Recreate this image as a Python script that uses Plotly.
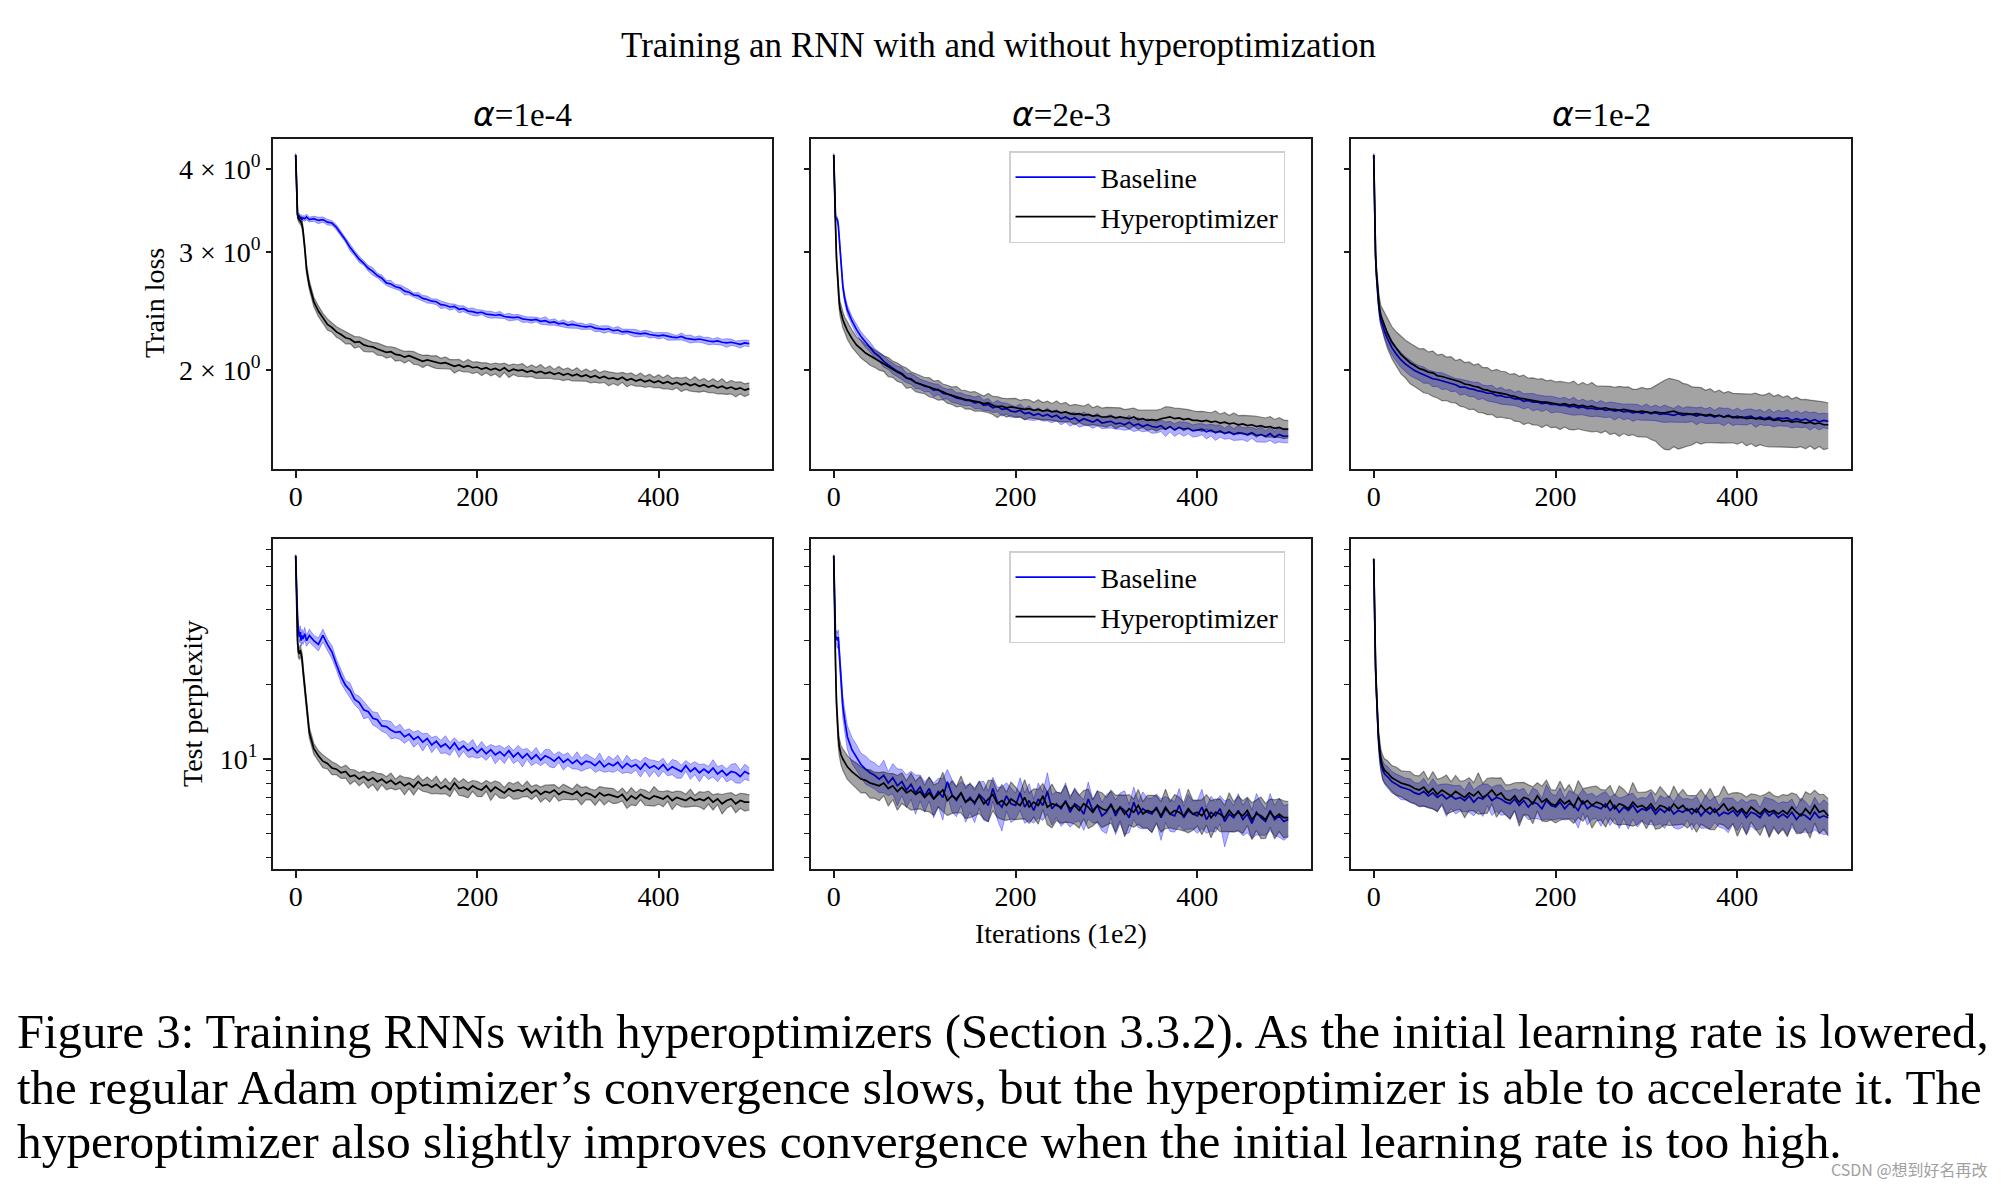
import plotly.graph_objects as go

SERIF = "Liberation Serif, Times New Roman, serif"

# ---------------- data ----------------
X = [0, 1, 2, 3, 4, 5, 6, 7, 8, 10, 12, 15, 20, 25, 30, 35, 40, 45] + list(range(50, 501, 5))
X_TICKS = [0, 200, 400]

# ---- Train loss, alpha = 1e-4 ----
B1 = [4.20, 3.72, 3.42, 3.39, 3.40, 3.37, 3.39, 3.36, 3.38, 3.37, 3.39, 3.36, 3.37, 3.35, 3.36, 3.33, 3.32, 3.27,
      3.20, 3.13, 3.05, 2.99, 2.93, 2.89, 2.84, 2.81, 2.77, 2.745,
      2.70, 2.69, 2.665, 2.655, 2.625, 2.615, 2.59, 2.585, 2.56, 2.55,
      2.535, 2.53, 2.505, 2.50, 2.485, 2.49, 2.465, 2.47, 2.45, 2.445,
      2.435, 2.44, 2.425, 2.42, 2.415, 2.42, 2.405, 2.40, 2.395, 2.40,
      2.385, 2.38, 2.375, 2.38, 2.365, 2.37, 2.355, 2.36, 2.345, 2.35,
      2.335, 2.34, 2.33, 2.325, 2.32, 2.325, 2.31, 2.305, 2.30, 2.305,
      2.29, 2.295, 2.28, 2.285, 2.275, 2.27, 2.265, 2.27, 2.26, 2.255,
      2.25, 2.255, 2.245, 2.24, 2.235, 2.245, 2.23, 2.225, 2.22, 2.225,
      2.215, 2.21, 2.205, 2.21, 2.20, 2.195, 2.20, 2.19, 2.185, 2.195,
      2.19]
B1_BAND = [0.5, 0.6, 0.8, 0.9, 1.0, 0.8, 0.9, 1.0, 0.8, 0.9, 1.0, 0.8, 0.9, 1.1, 0.9, 1.0, 0.8, 0.9,
           1.0, 0.8, 1.2, 0.9, 1.1, 0.7, 1.0, 1.3, 0.8, 1.1,
           0.9, 1.2, 0.8, 1.0, 1.3, 0.9, 0.7, 1.1, 1.0, 1.2,
           0.8, 1.0, 1.3, 0.9, 1.1, 0.8, 1.2, 1.0, 0.9, 1.3,
           1.1, 0.8, 1.0, 1.2, 0.9, 1.1, 0.7, 1.3, 1.0, 0.9,
           1.2, 0.9, 1.1, 0.8, 1.0, 1.4, 0.9, 1.1, 0.8, 1.2,
           1.0, 1.3, 0.9, 1.1, 0.8, 1.0, 1.2, 0.9, 1.3, 1.0,
           0.9, 1.2, 1.0, 0.8, 1.1, 1.3, 0.9, 1.0, 1.2, 0.8,
           1.1, 0.9, 1.3, 1.0, 0.8, 1.2, 1.0, 1.4, 0.9, 1.1,
           1.0, 1.3, 0.9, 1.2, 1.0, 1.5, 1.1, 0.9, 1.3, 1.0,
           1.1]
H1 = [4.20, 3.70, 3.42, 3.37, 3.36, 3.35, 3.33, 3.30, 3.24, 3.05, 2.83, 2.68, 2.53, 2.45, 2.39, 2.34, 2.315, 2.28,
      2.26, 2.235, 2.225, 2.20, 2.205, 2.18, 2.17, 2.165, 2.15, 2.14,
      2.125, 2.13, 2.11, 2.105, 2.09, 2.10, 2.085, 2.075, 2.06, 2.07,
      2.06, 2.055, 2.045, 2.05, 2.04, 2.025, 2.035, 2.02, 2.03, 2.015,
      2.02, 2.005, 2.015, 2.00, 2.01, 1.995, 2.015, 1.99, 2.005, 1.995,
      2.00, 1.985, 1.995, 1.98, 1.99, 1.975, 1.985, 1.97, 1.98, 1.965,
      1.975, 1.96, 1.97, 1.955, 1.965, 1.95, 1.96, 1.945, 1.955, 1.94,
      1.945, 1.935, 1.95, 1.93, 1.94, 1.925, 1.935, 1.92, 1.93, 1.915,
      1.925, 1.91, 1.92, 1.905, 1.915, 1.90, 1.91, 1.895, 1.905, 1.89,
      1.90, 1.885, 1.895, 1.88, 1.89, 1.875, 1.885, 1.87, 1.88, 1.865,
      1.875]
H1_BAND = [0.5, 0.8, 1.0, 1.0, 1.2, 1.0, 1.2, 1.3, 1.4, 1.5, 1.6, 1.5, 1.6, 1.8, 1.7, 1.9, 1.6, 1.8,
           1.8, 2.1, 1.6, 2.0, 1.7, 2.2, 1.9, 1.6, 2.1, 1.8,
           2.0, 1.7, 2.3, 1.8, 2.0, 1.6, 2.2, 1.9, 2.1, 1.7,
           1.9, 2.2, 1.8, 2.0, 1.6, 2.3, 1.9, 1.7, 2.1, 2.0,
           1.8, 2.2, 1.7, 2.0, 1.9, 2.3, 1.6, 2.1, 1.8, 2.0,
           2.2, 1.7, 2.0, 1.9, 2.4, 1.8, 2.1, 1.7, 2.2, 1.9,
           2.0, 1.8, 2.3, 1.7, 2.1, 1.9, 2.2, 1.8, 2.0, 2.4,
           1.9, 2.1, 1.7, 2.2, 2.0, 1.8, 2.3, 1.9, 2.1, 1.8,
           2.2, 1.9, 2.4, 2.0, 1.8, 2.3, 2.1, 1.9, 2.5, 2.0,
           2.2, 1.9, 2.4, 2.1, 2.6, 2.0, 2.3, 2.5, 2.1, 2.2,
           2.0]

# ---- Train loss, alpha = 2e-3 ----
B2 = [4.20, 3.55, 3.38, 3.37, 3.36, 3.30, 3.17, 3.02, 2.89, 2.67, 2.56, 2.46, 2.37, 2.30, 2.245, 2.20, 2.165, 2.12,
      2.095, 2.06, 2.035, 2.01, 1.99, 1.975, 1.945, 1.94, 1.915, 1.905,
      1.89, 1.885, 1.865, 1.87, 1.845, 1.84, 1.83, 1.815, 1.81, 1.80,
      1.80, 1.785, 1.79, 1.77, 1.775, 1.755, 1.765, 1.745, 1.75, 1.735,
      1.73, 1.74, 1.72, 1.725, 1.71, 1.72, 1.705, 1.715, 1.70, 1.71,
      1.69, 1.70, 1.685, 1.695, 1.675, 1.69, 1.68, 1.67, 1.685, 1.665,
      1.67, 1.675, 1.66, 1.665, 1.655, 1.67, 1.65, 1.66, 1.645, 1.655,
      1.645, 1.64, 1.65, 1.63, 1.645, 1.625, 1.64, 1.63, 1.635, 1.62,
      1.625, 1.63, 1.615, 1.625, 1.61, 1.62, 1.605, 1.615, 1.60, 1.61,
      1.605, 1.60, 1.61, 1.595, 1.60, 1.59, 1.605, 1.585, 1.60, 1.59,
      1.592]
B2_BAND = [0.5, 1.0, 1.0, 1.0, 1.0, 1.0, 1.2, 1.2, 1.3, 1.4, 1.5, 1.6, 1.5, 1.7, 1.6, 1.8, 1.7, 1.6,
           1.7, 2.0, 1.6, 1.9, 1.8, 2.2, 1.6, 1.9, 2.1, 1.7,
           1.9, 1.6, 2.2, 1.8, 2.0, 1.7, 2.3, 1.8, 2.1, 1.9,
           1.7, 2.0, 2.2, 1.8, 2.1, 1.6, 2.0, 2.3, 1.9, 2.1,
           1.8, 2.2, 1.9, 2.4, 1.8, 2.0, 1.7, 2.2, 2.0, 1.9,
           2.1, 1.8, 2.3, 1.9, 2.0, 2.4, 1.8, 2.1, 2.2, 1.9,
           2.0, 2.3, 1.8, 2.1, 1.9, 2.4, 2.0, 2.2, 1.8, 2.1,
           2.3, 1.9, 2.0, 2.5, 1.8, 2.2, 2.0, 2.4, 1.9, 2.1,
           2.2, 1.9, 2.4, 2.0, 2.6, 2.1, 1.9, 2.3, 2.0, 2.5,
           2.1, 2.4, 1.9, 2.2, 2.6, 2.0, 2.3, 2.1, 2.5, 2.2,
           2.3]
H2 = [4.20, 3.45, 3.28, 2.95, 2.76, 2.62, 2.53, 2.47, 2.43, 2.38, 2.34, 2.29, 2.23, 2.18, 2.15, 2.12, 2.10, 2.08,
      2.06, 2.045, 2.02, 2.005, 1.985, 1.97, 1.945, 1.935, 1.915, 1.905,
      1.895, 1.885, 1.87, 1.865, 1.855, 1.84, 1.83, 1.825, 1.815, 1.805,
      1.80, 1.795, 1.79, 1.78, 1.785, 1.77, 1.76, 1.765, 1.755, 1.76,
      1.755, 1.75, 1.745, 1.75, 1.74, 1.745, 1.735, 1.74, 1.73, 1.735,
      1.725, 1.73, 1.72, 1.715, 1.72, 1.71, 1.715, 1.705, 1.71, 1.70,
      1.70, 1.705, 1.695, 1.70, 1.695, 1.69, 1.70, 1.685, 1.69, 1.68,
      1.685, 1.68, 1.69, 1.695, 1.70, 1.69, 1.695, 1.685, 1.69, 1.68,
      1.68, 1.675, 1.68, 1.67, 1.675, 1.665, 1.67, 1.66, 1.665, 1.655,
      1.66, 1.65, 1.655, 1.645, 1.65, 1.64, 1.645, 1.635, 1.64, 1.63,
      1.63]
H2_BAND = [0.5, 1.0, 1.5, 2.0, 2.0, 2.2, 2.4, 2.5, 2.6, 2.8, 2.6, 2.9, 3.0, 2.8, 3.1, 2.9, 3.2, 3.0,
           3.0, 2.7, 3.3, 2.8, 3.2, 2.9, 3.5, 2.7, 3.1, 3.0,
           2.8, 3.3, 2.9, 3.4, 2.7, 3.1, 3.0, 3.5, 2.8, 3.2,
           2.9, 3.4, 3.0, 2.7, 3.3, 3.1, 3.6, 2.8, 3.2, 3.0,
           3.3, 2.9, 3.5, 3.1, 2.8, 3.4, 3.0, 3.2, 2.9, 3.6,
           3.1, 3.3, 2.8, 3.5, 3.0, 3.2, 3.7, 2.9, 3.3, 3.1,
           3.4, 3.0, 3.6, 3.2, 2.9, 3.5, 3.1, 3.3, 3.0, 3.4,
           3.2, 3.6, 3.4, 3.9, 3.5, 3.7, 3.3, 3.8, 3.2, 3.4,
           3.1, 3.5, 3.0, 3.3, 3.6, 3.1, 3.4, 2.9, 3.5, 3.2,
           3.0, 3.4, 3.1, 3.6, 3.0, 3.3, 3.5, 3.1, 3.4, 3.2,
           3.0]

# ---- Train loss, alpha = 1e-2 ----
B3 = [4.20, 3.35, 2.96, 2.77, 2.62, 2.53, 2.46, 2.41, 2.37, 2.33, 2.28, 2.23, 2.16, 2.11, 2.07, 2.04, 2.015, 1.995,
      1.98, 1.965, 1.955, 1.94, 1.935, 1.925, 1.92, 1.905, 1.90, 1.885,
      1.885, 1.875, 1.87, 1.86, 1.855, 1.845, 1.845, 1.83, 1.83, 1.82,
      1.82, 1.81, 1.81, 1.795, 1.80, 1.79, 1.79, 1.78, 1.785, 1.775,
      1.775, 1.77, 1.77, 1.76, 1.765, 1.755, 1.76, 1.75, 1.752, 1.745,
      1.75, 1.74, 1.745, 1.735, 1.74, 1.73, 1.735, 1.725, 1.73, 1.722,
      1.73, 1.72, 1.725, 1.715, 1.72, 1.715, 1.71, 1.72, 1.71, 1.715,
      1.715, 1.705, 1.715, 1.705, 1.71, 1.70, 1.71, 1.70, 1.71, 1.695,
      1.705, 1.695, 1.70, 1.705, 1.69, 1.70, 1.69, 1.70, 1.685, 1.695,
      1.69, 1.695, 1.68, 1.69, 1.68, 1.688, 1.675, 1.685, 1.672, 1.68,
      1.675]
B3_BAND = [0.5, 1.0, 1.0, 1.5, 1.5, 1.5, 2.0, 2.0, 2.0, 2.0, 2.2, 2.4, 2.5, 2.4, 2.6, 2.5, 2.7, 2.5,
           2.5, 2.8, 2.3, 2.7, 2.4, 2.9, 2.5, 2.6, 2.2, 2.8,
           2.4, 2.7, 2.5, 3.0, 2.3, 2.6, 2.8, 2.4, 2.9, 2.5,
           2.7, 2.3, 2.8, 2.6, 2.4, 3.0, 2.5, 2.7, 2.3, 2.9,
           2.6, 2.4, 2.8, 2.5, 3.1, 2.4, 2.7, 2.5, 2.9, 2.3,
           2.8, 2.5, 2.6, 3.0, 2.4, 2.7, 2.5, 2.9, 2.6, 2.4,
           2.8, 2.3, 2.7, 2.5, 3.0, 2.6, 2.4, 2.8, 2.5, 2.7,
           2.4, 2.9, 2.6, 2.5, 2.8, 2.3, 2.7, 3.0, 2.5, 2.6,
           2.8, 2.4, 2.7, 2.5, 2.9, 2.6, 2.3, 2.8, 2.5, 2.7,
           2.4, 2.9, 2.6, 2.8, 2.5, 2.7, 3.0, 2.6, 2.8, 2.5,
           2.6]
H3 = [4.20, 3.35, 2.98, 2.80, 2.66, 2.57, 2.50, 2.45, 2.41, 2.37, 2.33, 2.27, 2.20, 2.15, 2.11, 2.08, 2.05, 2.03,
      2.01, 2.00, 1.985, 1.98, 1.96, 1.955, 1.945, 1.94, 1.925, 1.92,
      1.905, 1.90, 1.89, 1.885, 1.87, 1.865, 1.855, 1.85, 1.845, 1.84,
      1.83, 1.825, 1.815, 1.81, 1.805, 1.80, 1.795, 1.79, 1.79, 1.785,
      1.78, 1.775, 1.78, 1.77, 1.775, 1.765, 1.77, 1.76, 1.765, 1.755,
      1.75, 1.755, 1.745, 1.745, 1.74, 1.745, 1.74, 1.735, 1.73, 1.735,
      1.73, 1.725, 1.73, 1.725, 1.725, 1.73, 1.735, 1.725, 1.72, 1.72,
      1.715, 1.72, 1.715, 1.71, 1.715, 1.705, 1.71, 1.70, 1.705, 1.70,
      1.695, 1.70, 1.69, 1.695, 1.69, 1.69, 1.685, 1.69, 1.68, 1.685,
      1.675, 1.68, 1.67, 1.675, 1.67, 1.665, 1.67, 1.66, 1.665, 1.655,
      1.655]
H3_BAND = [0.5, 1.0, 1.5, 2.0, 2.5, 3.0, 3.0, 3.5, 3.5, 4.0, 4.5, 5.0, 5.5, 6.0, 6.5, 6.5, 7.0, 7.0,
           7.0, 7.6, 7.2, 7.8, 7.4, 8.0, 7.5, 7.9, 7.3, 8.1,
           7.7, 8.2, 7.6, 8.4, 7.8, 8.1, 7.5, 8.3, 7.9, 8.0,
           7.6, 8.2, 7.8, 8.5, 7.7, 8.1, 7.9, 8.4, 7.6, 8.2,
           7.8, 8.3, 7.7, 8.0, 8.4, 7.6, 8.2, 7.9, 8.5, 7.8,
           8.1, 7.7, 8.3, 7.9, 8.6, 8.0, 8.4, 7.8, 8.2, 8.5,
           8.3, 8.8, 9.6, 10.8, 11.9, 12.3, 11.6, 11.8, 11.0, 10.6,
           10.0, 9.4, 9.7, 9.0, 9.3, 8.7, 9.1, 8.6, 8.9, 8.5,
           8.7, 8.3, 8.9, 8.5, 9.2, 8.6, 8.8, 9.3, 8.7, 9.0,
           8.6, 8.9, 8.3, 8.7, 8.1, 8.5, 7.9, 8.4, 7.8, 8.2,
           7.8]

# ---- Test perplexity, alpha = 1e-4 ----
B4 = [66, 46, 38, 33, 31, 32.5, 30, 31.5, 30.5, 32, 30, 31.5, 30, 29, 31.5, 29, 27, 24,
      21.5, 19.8, 18.9, 17.4, 16.9, 15.8, 15.5, 14.6, 14.4, 13.6,
      13.5, 13.1, 12.8, 12.9, 12.3, 12.6, 12.0, 12.3, 11.7, 12.1,
      11.4, 11.8, 11.2, 11.5, 11.0, 11.6, 10.9, 11.3, 10.8, 11.1,
      10.6, 11.0, 10.5, 10.9, 10.4, 10.7, 10.3, 10.8, 10.2, 10.6,
      10.1, 10.5, 10.0, 10.4, 9.9, 10.3, 10.1, 9.8, 10.2, 9.7,
      10.0, 9.6, 9.9, 9.5, 9.8, 9.7, 9.4, 9.8, 9.3, 9.6,
      9.4, 9.7, 9.2, 9.6, 9.3, 9.5, 9.1, 9.6, 9.2, 9.4,
      9.1, 9.5, 9.0, 9.3, 9.1, 8.9, 9.4, 8.9, 9.2, 8.8,
      9.1, 8.8, 9.2, 8.7, 9.0, 8.6, 8.9, 8.8, 8.5, 8.9,
      8.7]
B4_BAND = [1, 3, 4, 5, 5, 6, 5, 6, 5, 6, 5, 6, 5, 6, 6, 5, 6, 5,
           6, 5, 7, 5, 6, 8, 5, 6, 7, 5,
           6, 8, 5, 7, 6, 5, 7, 6, 8, 5,
           7, 5, 6, 8, 6, 5, 7, 5, 6, 8,
           5, 7, 6, 5, 8, 6, 7, 5, 6, 7,
           8, 5, 6, 7, 5, 6, 8, 6, 5, 7,
           6, 5, 8, 6, 7, 5, 6, 8, 5, 7,
           6, 7, 5, 8, 6, 5, 7, 6, 8, 5,
           7, 6, 5, 7, 8, 6, 5, 7, 6, 8,
           5, 6, 8, 7, 5, 6, 7, 9, 6, 7,
           6]
H4 = [66, 40, 30, 27, 26.5, 27.5, 26, 25.5, 23, 19.5, 15.8, 12.8, 11.0, 10.3, 9.8, 9.6, 9.2, 9.1,
      8.8, 8.9, 8.5, 8.6, 8.3, 8.5, 8.2, 8.4, 8.1, 8.3,
      8.0, 8.2, 7.9, 8.1, 7.8, 8.0, 7.7, 8.1, 7.8, 7.9,
      7.7, 7.9, 7.6, 7.8, 7.5, 8.0, 7.6, 7.7, 7.5, 7.8,
      7.6, 7.5, 7.8, 7.4, 7.7, 7.5, 7.3, 7.6, 7.4, 7.5,
      7.4, 7.6, 7.3, 7.5, 7.2, 7.4, 7.3, 7.5, 7.2, 7.4,
      7.3, 7.2, 7.4, 7.1, 7.3, 7.2, 7.0, 7.3, 7.1, 7.2,
      7.1, 7.0, 7.2, 6.8, 7.1, 6.9, 7.2, 7.0, 6.9, 7.1,
      7.0, 6.9, 7.1, 6.8, 7.0, 6.9, 6.8, 7.0, 6.8, 6.9,
      6.8, 7.0, 6.7, 6.9, 6.6, 6.8, 6.9, 6.6, 6.8, 6.7,
      6.7]
H4_BAND = [1, 3, 4, 5, 5, 5, 5, 5, 5, 5, 5, 5, 5, 5, 6, 5, 6, 5,
           5, 6, 7, 5, 6, 5, 7, 6, 8, 5,
           6, 7, 5, 6, 8, 5, 7, 6, 5, 7,
           6, 8, 5, 7, 6, 5, 6, 8, 7, 5,
           7, 6, 5, 8, 6, 7, 5, 6, 7, 8,
           5, 7, 6, 5, 7, 6, 8, 5, 6, 7,
           6, 5, 7, 8, 6, 5, 7, 6, 8, 6,
           7, 5, 6, 7, 8, 6, 5, 7, 6, 9,
           6, 7, 5, 8, 6, 7, 6, 8, 5, 7,
           8, 6, 7, 5, 9, 7, 6, 8, 7, 8,
           7]

# ---- Test perplexity, alpha = 2e-3 ----
B5 = [66, 40, 31, 31, 30, 31, 27, 23, 20, 16.3, 14.4, 12.3, 10.9, 10.2, 9.5, 9.1, 8.8, 8.6,
      8.3, 8.6, 8.0, 8.4, 7.8, 8.1, 7.5, 7.9, 7.3, 7.7,
      7.1, 7.6, 6.9, 7.4, 7.0, 8.1, 7.2, 6.8, 7.3, 6.7,
      7.0, 6.6, 7.2, 6.9, 6.5, 7.6, 6.7, 6.4, 7.1, 6.6,
      6.5, 7.3, 6.4, 6.8, 6.2, 6.9, 6.5, 7.4, 6.3, 6.6,
      6.3, 6.8, 6.1, 6.6, 6.4, 6.0, 6.9, 6.2, 6.5, 5.9,
      6.1, 6.6, 5.9, 6.4, 6.2, 5.8, 6.7, 6.0, 6.3, 6.1,
      6.0, 6.4, 5.8, 6.3, 6.0, 5.9, 6.5, 5.8, 6.2, 6.0,
      5.9, 6.4, 5.7, 6.1, 5.9, 6.3, 5.6, 6.0, 5.8, 6.2,
      5.7, 6.0, 5.5, 6.1, 5.8, 5.6, 6.2, 5.7, 5.9, 5.6,
      5.7]
B5_BAND = [1, 4, 5, 6, 7, 7, 8, 8, 9, 10, 10, 11, 12, 12, 11, 13, 12, 12,
           12, 15, 11, 14, 17, 12, 15, 13, 18, 12,
           14, 11, 16, 13, 19, 12, 15, 14, 11, 17,
           13, 16, 12, 18, 14, 11, 15, 20, 13, 16,
           12, 15, 14, 17, 11, 16, 13, 19, 14, 12,
           15, 18, 13, 16, 12, 14, 17, 11, 15, 13,
           18, 12, 16, 14, 20, 13, 15, 12, 17, 14,
           16, 13, 19, 12, 15, 14, 17, 11, 16, 13,
           15, 18, 12, 16, 14, 13, 21, 15, 12, 17,
           14, 16, 13, 19, 15, 12, 17, 14, 18, 16,
           15]
H5 = [66, 34, 24, 17, 14, 12.3, 11.3, 10.8, 10.4, 10.0, 9.7, 9.3, 8.9, 8.6, 8.3, 8.2, 8.0, 7.9,
      7.8, 8.0, 7.6, 7.8, 7.4, 7.7, 7.3, 7.5, 7.2, 7.4,
      7.0, 7.3, 6.9, 7.2, 7.5, 6.8, 7.1, 6.9, 7.3, 6.7,
      6.9, 6.7, 7.1, 6.6, 6.9, 7.2, 6.6, 6.8, 6.5, 6.9,
      6.7, 6.5, 7.0, 6.4, 6.7, 6.5, 7.1, 6.4, 6.6, 6.5,
      6.4, 6.7, 6.3, 6.5, 6.2, 6.6, 6.4, 6.1, 6.5, 6.3,
      6.2, 6.5, 6.1, 6.4, 6.0, 6.3, 6.1, 6.5, 6.0, 6.2,
      6.1, 6.3, 5.9, 6.4, 6.0, 6.2, 6.1, 5.9, 6.3, 6.0,
      6.1, 5.9, 6.3, 5.8, 6.1, 6.0, 5.8, 6.2, 5.9, 6.1,
      5.9, 6.2, 5.7, 6.0, 5.9, 5.7, 6.1, 5.8, 6.0, 5.8,
      5.8]
H5_BAND = [1, 4, 5, 6, 7, 8, 8, 9, 9, 10, 10, 11, 11, 12, 12, 11, 13, 12,
           13, 11, 15, 12, 16, 14, 12, 17, 13, 15,
           12, 16, 14, 11, 18, 13, 15, 12, 17, 14,
           16, 12, 15, 13, 19, 14, 12, 16, 13, 17,
           15, 12, 18, 14, 13, 16, 12, 15, 20, 13,
           14, 17, 12, 16, 15, 13, 18, 12, 14, 16,
           13, 15, 17, 12, 19, 14, 13, 16, 12, 15,
           17, 13, 14, 18, 12, 16, 15, 13, 20, 14,
           12, 16, 14, 17, 13, 15, 12, 18, 14, 16,
           15, 13, 17, 14, 19, 16, 13, 18, 15, 17,
           16]

# ---- Test perplexity, alpha = 1e-2 ----
B6 = [64, 35, 23, 18.5, 14.5, 12.3, 11.0, 10.1, 9.6, 9.0, 8.7, 8.5, 8.1, 7.9, 7.7, 7.6, 7.5, 7.3,
      7.2, 7.4, 7.1, 7.3, 7.0, 7.2, 6.9, 7.1, 6.9, 7.0,
      6.8, 7.1, 6.7, 7.0, 6.9, 7.2, 6.8, 7.0, 6.9, 6.7,
      6.6, 6.9, 6.5, 6.8, 6.4, 6.7, 6.6, 6.3, 6.8, 6.5,
      6.4, 6.7, 6.3, 6.6, 6.5, 6.2, 6.8, 6.3, 6.5, 6.4,
      6.3, 6.6, 6.2, 6.5, 6.1, 6.4, 6.2, 6.5, 6.1, 6.3,
      6.2, 6.4, 6.0, 6.3, 6.1, 6.4, 6.0, 6.2, 6.1, 6.3,
      6.0, 6.3, 5.9, 6.2, 6.0, 6.3, 5.9, 6.1, 6.0, 6.2,
      5.9, 6.2, 5.8, 6.1, 6.0, 5.8, 6.2, 5.9, 6.1, 5.8,
      6.0, 5.8, 6.1, 5.7, 6.0, 5.9, 5.7, 6.1, 5.8, 5.9,
      5.8]
B6_BAND = [1, 3, 4, 5, 6, 6, 7, 8, 8, 9, 9, 10, 10, 10, 11, 10, 11, 10,
           11, 13, 10, 14, 12, 10, 15, 11, 13, 12,
           10, 14, 12, 11, 15, 10, 13, 12, 14, 11,
           13, 10, 15, 12, 11, 14, 13, 10, 16, 12,
           11, 14, 10, 13, 12, 15, 11, 14, 12, 10,
           15, 12, 13, 11, 14, 10, 16, 12, 13, 11,
           12, 15, 10, 13, 14, 11, 12, 16, 13, 10,
           14, 12, 11, 15, 13, 12, 10, 14, 16, 12,
           13, 11, 15, 12, 14, 10, 13, 17, 12, 14,
           12, 15, 13, 11, 16, 14, 12, 15, 13, 16,
           14]
H6 = [64, 35, 24, 19, 15, 12.7, 11.4, 10.5, 9.9, 9.3, 9.0, 8.8, 8.4, 8.2, 8.0, 7.9, 7.8, 7.6,
      7.5, 7.7, 7.3, 7.6, 7.2, 7.5, 7.3, 7.1, 7.4, 7.2,
      7.0, 7.3, 7.1, 7.4, 7.0, 7.2, 7.5, 7.1, 7.3, 6.9,
      6.8, 7.1, 6.7, 7.0, 6.9, 6.6, 7.1, 6.7, 6.9, 6.6,
      6.5, 6.9, 6.6, 6.8, 6.4, 7.0, 6.6, 6.8, 6.5, 6.7,
      6.6, 6.4, 6.8, 6.3, 6.6, 6.5, 6.3, 6.7, 6.4, 6.5,
      6.3, 6.6, 6.2, 6.5, 6.4, 6.2, 6.6, 6.3, 6.5, 6.2,
      6.3, 6.1, 6.5, 6.2, 6.4, 6.1, 6.3, 6.6, 6.2, 6.4,
      6.1, 6.3, 6.0, 6.4, 6.2, 6.0, 6.3, 6.1, 6.2, 6.0,
      6.2, 6.0, 6.4, 6.1, 5.9, 6.3, 6.0, 6.5, 6.1, 6.2,
      5.9]
H6_BAND = [1, 4, 5, 6, 7, 8, 9, 10, 10, 11, 11, 12, 12, 13, 12, 13, 14, 13,
           14, 16, 13, 17, 15, 12, 18, 14, 16, 13,
           17, 15, 13, 19, 14, 16, 12, 18, 15, 14,
           16, 13, 20, 15, 14, 17, 13, 16, 19, 14,
           15, 18, 13, 16, 14, 17, 15, 13, 19, 16,
           14, 17, 15, 13, 18, 16, 14, 20, 15, 13,
           17, 14, 16, 19, 15, 13, 18, 14, 16, 15,
           13, 17, 16, 14, 19, 15, 13, 18, 16, 14,
           20, 15, 17, 13, 16, 18, 14, 21, 15, 17,
           16, 19, 14, 18, 15, 17, 20, 15, 18, 16,
           17]

SUBTITLES = ["1e-4", "2e-3", "1e-2"]
TOP_TICKS = [2, 3, 4]
TOP_TICKTEXT = ["2 × 10<sup>0</sup>", "3 × 10<sup>0</sup>", "4 × 10<sup>0</sup>"]
BOT_TICKS = [10]
BOT_TICKTEXT = ["10<sup>1</sup>"]
BOT_MINOR = [4, 5, 6, 7, 8, 9, 20, 30, 40, 50, 60, 70]

PANELS = [(B1, B1_BAND, H1, H1_BAND), (B2, B2_BAND, H2, H2_BAND), (B3, B3_BAND, H3, H3_BAND),
          (B4, B4_BAND, H4, H4_BAND), (B5, B5_BAND, H5, H5_BAND), (B6, B6_BAND, H6, H6_BAND)]
for arrs in PANELS:
    for a in arrs:
        assert len(a) == len(X), (len(a), len(X))

# ---------------- layout geometry ----------------
W, H = 2007, 1189
XD = [(273 / W, 772 / W), (811 / W, 1311 / W), (1351 / W, 1851 / W)]
YD = [(1 - 469 / H, 1 - 139 / H), (1 - 869 / H, 1 - 539 / H)]
YR = [[0.1525, 0.6471], [0.5565, 1.887]]
AX = "#1a1a1a"

fig = go.Figure()


def band(mean, pct, sign):
    return [m * (1 + sign * p / 100.0) for m, p in zip(mean, pct)]


for i, (b, bb, h, hb) in enumerate(PANELS):
    n = i + 1
    xa = "x" if n == 1 else f"x{n}"
    ya = "y" if n == 1 else f"y{n}"
    leg = None
    if n == 2:
        leg = "legend"
    elif n == 5:
        leg = "legend2"
    # baseline band + line
    fig.add_trace(go.Scatter(x=X, y=band(b, bb, 1), xaxis=xa, yaxis=ya, mode="lines",
                             line=dict(color="rgba(0,0,255,0.35)", width=1), showlegend=False, hoverinfo="skip"))
    fig.add_trace(go.Scatter(x=X, y=band(b, bb, -1), xaxis=xa, yaxis=ya, mode="lines", fill="tonexty",
                             fillcolor="rgba(0,0,255,0.3)",
                             line=dict(color="rgba(0,0,255,0.35)", width=1), showlegend=False, hoverinfo="skip"))
    fig.add_trace(go.Scatter(x=X, y=b, xaxis=xa, yaxis=ya, mode="lines", name="Baseline",
                             line=dict(color="#0000ff", width=1.7),
                             showlegend=leg is not None, legend=leg or "legend"))
    # hyperoptimizer band + line
    fig.add_trace(go.Scatter(x=X, y=band(h, hb, 1), xaxis=xa, yaxis=ya, mode="lines",
                             line=dict(color="rgba(0,0,0,0.42)", width=1.2), showlegend=False, hoverinfo="skip"))
    fig.add_trace(go.Scatter(x=X, y=band(h, hb, -1), xaxis=xa, yaxis=ya, mode="lines", fill="tonexty",
                             fillcolor="rgba(0,0,0,0.36)",
                             line=dict(color="rgba(0,0,0,0.42)", width=1.2), showlegend=False, hoverinfo="skip"))
    fig.add_trace(go.Scatter(x=X, y=h, xaxis=xa, yaxis=ya, mode="lines", name="Hyperoptimizer",
                             line=dict(color="#000000", width=1.7),
                             showlegend=leg is not None, legend=leg or "legend"))

layout = dict(width=W, height=H, margin=dict(l=0, r=0, t=0, b=0),
              paper_bgcolor="white", plot_bgcolor="white",
              font=dict(family=SERIF, size=28, color="black"))

for i in range(6):
    n = i + 1
    row, col = divmod(i, 3)
    xk = "xaxis" if n == 1 else f"xaxis{n}"
    yk = "yaxis" if n == 1 else f"yaxis{n}"
    layout[xk] = dict(domain=list(XD[col]), anchor="y" if n == 1 else f"y{n}", range=[-25, 525],
                      tickmode="array", tickvals=X_TICKS, ticks="outside", ticklen=7, tickwidth=1.5,
                      tickcolor=AX, showline=True, linecolor=AX, linewidth=1.8, mirror=True,
                      showgrid=False, zeroline=False, ticklabelstandoff=-6,
                      tickfont=dict(family=SERIF, size=28, color="black"))
    ydict = dict(domain=list(YD[row]), anchor="x" if n == 1 else f"x{n}", type="log", range=YR[row],
                 showline=True, linecolor=AX, linewidth=1.8, mirror=True, showgrid=False, zeroline=False,
                 ticks="outside", tickcolor=AX, tickwidth=1.5, tickmode="array",
                 tickfont=dict(family=SERIF, size=28, color="black"), showticklabels=(col == 0),
                 ticklabelstandoff=0)
    if row == 0:
        ydict.update(tickvals=TOP_TICKS, ticktext=TOP_TICKTEXT, ticklen=5)
    else:
        ydict.update(tickvals=BOT_TICKS, ticktext=BOT_TICKTEXT, ticklen=8,
                     minor=dict(tickmode="array", tickvals=BOT_MINOR, ticks="outside", ticklen=5,
                                tickwidth=1.3, tickcolor=AX, showgrid=False))
    layout[yk] = ydict

legend_common = dict(xanchor="left", yanchor="top", bgcolor="rgba(255,255,255,0.85)",
                     bordercolor="#d0d0d0", borderwidth=1.5, itemwidth=80, traceorder="normal",
                     font=dict(family=SERIF, size=28, color="black"), tracegroupgap=0)
layout["legend"] = dict(x=1009 / W, y=1 - 151 / H, **legend_common)
layout["legend2"] = dict(x=1009 / W, y=1 - 551 / H, **legend_common)

annotations = []
annotations.append(dict(text="Training an RNN with and without hyperoptimization", x=998 / W, y=1 - 45 / H,
                        xref="paper", yref="paper", showarrow=False, xanchor="center", yanchor="middle",
                        font=dict(family=SERIF, size=35, color="black")))
for c, s in enumerate(SUBTITLES):
    cx = (XD[c][0] + XD[c][1]) / 2
    annotations.append(dict(text="<span style='font-family:DejaVu Sans'><i>α</i></span>=" + s,
                            x=cx, y=1 - 114 / H, xref="paper", yref="paper", showarrow=False,
                            xanchor="center", yanchor="middle", font=dict(family=SERIF, size=33, color="black")))
annotations.append(dict(text="Train loss", x=154 / W, y=1 - 303 / H, xref="paper", yref="paper",
                        showarrow=False, textangle=-90, xanchor="center", yanchor="middle",
                        font=dict(family=SERIF, size=28, color="black")))
annotations.append(dict(text="Test perplexity", x=192 / W, y=1 - 704 / H, xref="paper", yref="paper",
                        showarrow=False, textangle=-90, xanchor="center", yanchor="middle",
                        font=dict(family=SERIF, size=28, color="black")))
annotations.append(dict(text="Iterations (1e2)", x=1061 / W, y=1 - 933 / H, xref="paper", yref="paper",
                        showarrow=False, xanchor="center", yanchor="middle",
                        font=dict(family=SERIF, size=28, color="black")))

CAPTION = [
    "Figure 3: Training RNNs with hyperoptimizers (Section 3.3.2). As the initial learning rate is lowered,",
    "the regular Adam optimizer’s convergence slows, but the hyperoptimizer is able to accelerate it. The",
    "hyperoptimizer also slightly improves convergence when the initial learning rate is too high.",
]
CAPTION_Y = [1032, 1087, 1141]
CAPTION_SIZE = [48.7, 49.0, 49.4]
for line, yc, fs in zip(CAPTION, CAPTION_Y, CAPTION_SIZE):
    annotations.append(dict(text=line, x=15 / W, y=1 - yc / H, xref="paper", yref="paper", showarrow=False,
                            xanchor="left", yanchor="middle", font=dict(family=SERIF, size=fs, color="black")))
annotations.append(dict(text="CSDN @想到好名再改", x=1990 / W, y=1 - 1169 / H, xref="paper", yref="paper",
                        showarrow=False, xanchor="right", yanchor="middle",
                        font=dict(family="Noto Sans CJK SC, sans-serif", size=16, color="#a0a0a0")))
layout["annotations"] = annotations

fig.update_layout(**layout)
fig.write_html("out.html")
